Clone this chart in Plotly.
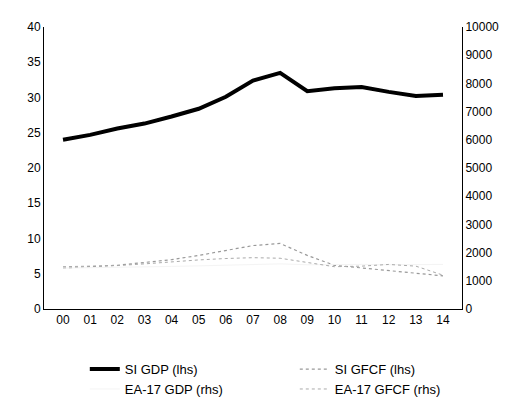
import plotly.graph_objects as go

years = ["00", "01", "02", "03", "04", "05", "06", "07", "08", "09", "10", "11", "12", "13", "14"]
si_gdp = [24.0, 24.7, 25.6, 26.3, 27.3, 28.4, 30.1, 32.4, 33.5, 30.9, 31.3, 31.5, 30.8, 30.2, 30.4]
si_gfcf = [5.8, 6.0, 6.2, 6.6, 7.0, 7.6, 8.3, 9.0, 9.3, 7.6, 6.2, 5.8, 5.4, 5.0, 4.7]
ea_gdp = [1450, 1460, 1470, 1490, 1510, 1530, 1560, 1590, 1600, 1570, 1580, 1580, 1570, 1570, 1580]
ea_gfcf = [1500, 1520, 1540, 1600, 1680, 1740, 1790, 1820, 1800, 1650, 1500, 1520, 1580, 1520, 1200]

fig = go.Figure()
fig.add_trace(go.Scatter(x=years, y=si_gdp, name="SI GDP (lhs)", mode="lines",
                         line=dict(color="black", width=4)))
fig.add_trace(go.Scatter(x=years, y=si_gfcf, name="SI GFCF (lhs)", mode="lines",
                         line=dict(color="#999999", width=1.2, dash="dot")))
fig.add_trace(go.Scatter(x=years, y=ea_gdp, name="EA-17 GDP (rhs)", mode="lines", yaxis="y2",
                         line=dict(color="#f4f4f4", width=1)))
fig.add_trace(go.Scatter(x=years, y=ea_gfcf, name="EA-17 GFCF (rhs)", mode="lines", yaxis="y2",
                         line=dict(color="#aaaaaa", width=1, dash="dot")))

fig.update_layout(
    width=509, height=408, template="simple_white",
    paper_bgcolor="white", plot_bgcolor="white",
    font=dict(family="Liberation Sans, Arial", size=12, color="black"),
    margin=dict(l=36, r=52, t=14, b=96),
    showlegend=True,
    legend=dict(orientation="h", x=0.6, xanchor="center", y=-0.16, yanchor="top",
                entrywidth=165, entrywidthmode="pixels", traceorder="normal",
                font=dict(size=13)),
    xaxis=dict(showline=True, linecolor="black", ticks="", showgrid=False,
               range=[-0.7, 14.7]),
    yaxis=dict(range=[0, 40], dtick=5, showline=True, linecolor="black", ticks="",
               showgrid=False, zeroline=False),
    yaxis2=dict(range=[0, 10000], dtick=1000, overlaying="y", side="right", showline=True,
                linecolor="black", ticks="", showgrid=False, zeroline=False, tickformat="d"),
)
fig.write_html("out.html")
